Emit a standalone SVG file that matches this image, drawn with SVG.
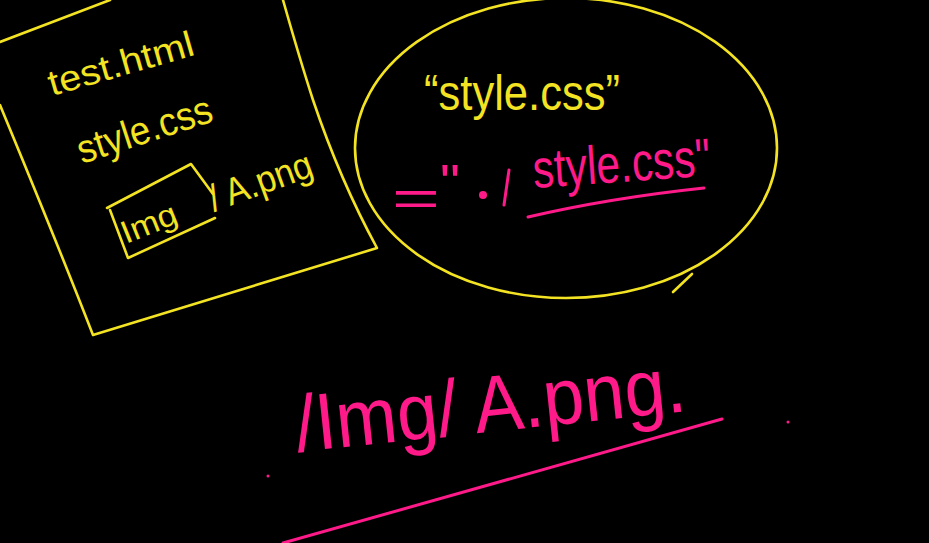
<svg xmlns="http://www.w3.org/2000/svg" width="929" height="543" viewBox="0 0 929 543">
<style>
.y{fill:none;stroke:#f3e323;stroke-width:2.6;stroke-linecap:round;stroke-linejoin:round}
.yt{fill:#f3e323;font-family:"Liberation Sans",Arial,sans-serif}
.p{fill:none;stroke:#ff1a8a;stroke-width:3;stroke-linecap:round;stroke-linejoin:round}
.pt{fill:#ff1a8a;font-family:"Liberation Sans",Arial,sans-serif}
</style>
<rect width="929" height="543" fill="#000"/>
<g id="file-sheet">
<path class="y" d="M0,42 L110,0"/>
<path class="y" d="M283,0 Q300,60 313,100 Q340,180 377,248 L93,335 Q60,250 0,105"/>
<text class="yt" font-size="36" x="52" y="96" textLength="150" lengthAdjust="spacingAndGlyphs" transform="rotate(-16 52 96)">test.html</text>
<text class="yt" font-size="40" x="82" y="164" textLength="140" lengthAdjust="spacingAndGlyphs" transform="rotate(-18 82 164)">style.css</text>
<path class="y" d="M107,208 L191,164 L213,194 M215,218 L128,258 L110,210"/>
<text class="yt" font-size="32" x="126" y="244" textLength="58" lengthAdjust="spacingAndGlyphs" transform="rotate(-22 126 244)">Img</text>
<text class="yt" font-size="38" x="214" y="212" textLength="108" lengthAdjust="spacingAndGlyphs" transform="rotate(-20 214 212)">/ A.png</text>
</g>
<g id="path-bubble">
<ellipse class="y" cx="566" cy="148" rx="211" ry="150"/>
<path class="y" d="M673,292 L692,274"/>
<text class="yt" font-size="50" x="424" y="110" textLength="196" lengthAdjust="spacingAndGlyphs">“style.css”</text>
<text class="pt" font-size="50" x="392" y="215" textLength="48" lengthAdjust="spacingAndGlyphs">=</text>
<text class="pt" font-size="50" x="440" y="200" textLength="20" lengthAdjust="spacingAndGlyphs">"</text>
<circle cx="483" cy="195" r="4" fill="#ff1a8a"/>
<path class="p" d="M509,170 L504,205"/>
<text class="pt" font-size="54" x="534" y="188" textLength="178" lengthAdjust="spacingAndGlyphs" transform="rotate(-4 534 188)">style.css"</text>
<path class="p" d="M528,217 Q610,198 704,188"/>
</g>
<g id="image-path">
<text class="pt" font-size="80" x="298" y="452" textLength="392" lengthAdjust="spacingAndGlyphs" transform="rotate(-6 298 452)">/Img/ A.png.</text>
<path class="p" d="M283,543 L722,419"/>
<circle cx="268" cy="476" r="1.5" fill="#ff1a8a"/>
<circle cx="788" cy="422" r="1.5" fill="#ff1a8a"/>
</g>
</svg>
